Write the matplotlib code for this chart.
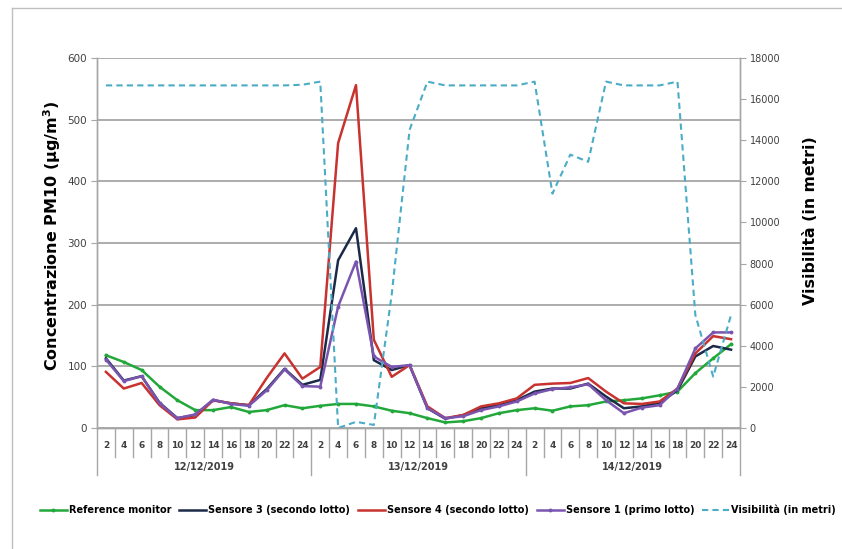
import numpy as np
import matplotlib
matplotlib.use('Agg')
import matplotlib.pyplot as plt
import matplotlib.transforms as mtransforms
from matplotlib.lines import Line2D

# hours of each day, three days
hours = [2, 4, 6, 8, 10, 12, 14, 16, 18, 20, 22, 24]
days = ['12/12/2019', '13/12/2019', '14/12/2019']

# PM10 (ug/m3)
reference = [118, 107, 94, 67, 45, 29, 29, 34, 26, 29, 37, 32,
             36, 39, 39, 35, 28, 24, 16, 9, 11, 16, 24, 29,
             32, 28, 35, 37, 43, 45, 48, 53, 59, 89, 113, 136]
sensore3 = [113, 77, 84, 41, 16, 21, 45, 40, 37, 63, 96, 70,
            78, 272, 324, 110, 94, 102, 32, 15, 21, 32, 37, 45,
            59, 64, 64, 72, 51, 32, 35, 41, 61, 116, 133, 127]
sensore4 = [91, 64, 73, 37, 14, 17, 45, 40, 37, 81, 121, 80,
            99, 462, 556, 143, 83, 102, 35, 16, 21, 35, 40, 48,
            70, 72, 73, 81, 59, 40, 39, 43, 64, 121, 149, 144]
sensore1 = [111, 76, 84, 40, 16, 22, 46, 39, 36, 61, 95, 68,
            67, 197, 270, 116, 99, 102, 32, 16, 19, 29, 35, 43,
            56, 63, 66, 71, 45, 24, 33, 37, 64, 129, 155, 155]
# visibility (m), right axis
visibilita = [16667, 16667, 16667, 16667, 16667, 16667, 16667, 16667, 16667, 16667, 16667, 16700,
              16850, 0, 300, 150, 6500, 14500, 16850, 16667, 16667, 16667, 16667, 16667,
              16850, 11400, 13300, 12950, 16850, 16667, 16667, 16667, 16850, 5500, 2500, 5500]

labels = hours * len(days)
x = np.arange(len(labels))

grey = '#A6A6A6'
txt = '#404040'

fig = plt.figure(figsize=(8.42, 5.49), dpi=100)
ax = fig.add_axes([97/842, 1-428/549, 643/842, 370/549])
ax2 = ax.twinx()

ax.plot(x, reference, color='#22A83A', lw=1.8, marker='o', ms=1.8, label='Reference monitor', zorder=3)
ax.plot(x, sensore3, color='#1C2A48', lw=1.8, label='Sensore 3 (secondo lotto)', zorder=3)
ax.plot(x, sensore4, color='#C8322F', lw=1.8, label='Sensore 4 (secondo lotto)', zorder=3)
ax.plot(x, sensore1, color='#7A55B0', lw=1.8, marker='o', ms=1.8, label='Sensore 1 (primo lotto)', zorder=3)
ax2.plot(x, visibilita, color='#4BACC6', lw=1.5, ls=(0, (3, 2)), label='Visibilità (in metri)')

ax.set_xlim(-0.5, len(labels) - 0.5)
ax.set_ylim(0, 600)
ax.set_yticks(np.arange(0, 601, 100))
ax2.set_ylim(0, 18000)
ax2.set_yticks(np.arange(0, 18001, 2000))
ax.yaxis.grid(True, color=grey, lw=1.3)
ax.set_axisbelow(True)

for a in (ax, ax2):
    a.spines['top'].set_visible(False)
    for s in ['left', 'right', 'bottom']:
        a.spines[s].set_color(grey)
        a.spines[s].set_linewidth(1.0)

ax.tick_params(axis='y', length=4, color=grey, labelsize=7.5, labelcolor=txt, pad=3)
ax2.tick_params(axis='y', length=4, color=grey, labelsize=7, labelcolor=txt, pad=3)
ax.set_xticks(x)
ax.set_xticklabels([str(h) for h in labels], fontsize=6.5, fontweight='bold', color=txt)
ax.tick_params(axis='x', length=0, pad=9)

# category separators and day labels under the axis
trans = mtransforms.blended_transform_factory(ax.transData, ax.transAxes)
for i in range(len(labels) + 1):
    depth = -0.127 if i % len(hours) == 0 else -0.078
    ax.add_line(Line2D([i - 0.5, i - 0.5], [0, depth], transform=trans,
                       color=grey, lw=1.0, clip_on=False))
for k, d in enumerate(days):
    ax.text(k * len(hours) + (len(hours) - 1) / 2, -0.105, d, transform=trans,
            ha='center', va='center', fontsize=7, fontweight='bold', color=txt)

ax.set_ylabel(r'Concentrazione PM10 (µg/m$^{\mathbf{3}}$)', fontsize=11.5, fontweight='bold')
ax.yaxis.set_label_coords(-0.053, 0.52)
ax2.set_ylabel('Visibilità (in metri)', fontsize=11.3, fontweight='bold')
ax2.yaxis.set_label_coords(1.098, 0.56)

h1, l1 = ax.get_legend_handles_labels()
h2, l2 = ax2.get_legend_handles_labels()
leg = fig.legend(h1 + h2, l1 + l2, loc='center', bbox_to_anchor=(0.52, 1-510/549),
                 ncol=5, frameon=False, prop={'size': 7, 'weight': 'bold'},
                 handlelength=2.8, handletextpad=0.2, columnspacing=0.8)

# outer frame
fig.add_artist(Line2D([12/842, 12/842], [0, 1-8/549], color='#BFBFBF', lw=1))
fig.add_artist(Line2D([12/842, 1], [1-8/549, 1-8/549], color='#BFBFBF', lw=1))

fig.savefig('out.png', dpi=100)
